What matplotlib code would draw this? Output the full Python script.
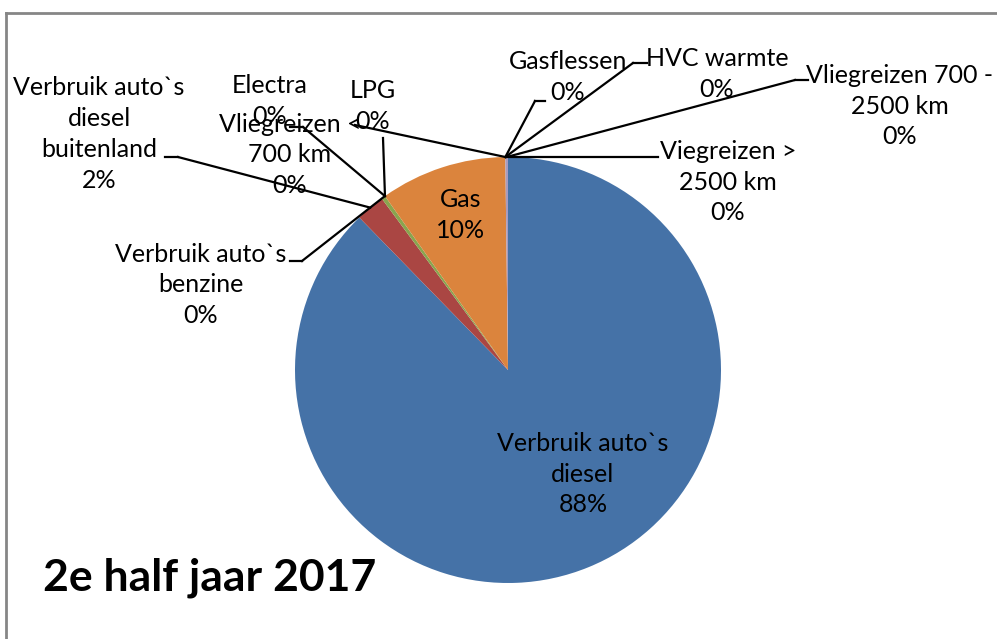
import numpy as np
import matplotlib
matplotlib.use("Agg")
import matplotlib.pyplot as plt

# data, clockwise from 12 o'clock (Excel order)
categories = ["Verbruik auto`s\ndiesel", "Verbruik auto`s\ndiesel\nbuitenland",
              "Verbruik auto`s\nbenzine", "Electra", "LPG", "Gas",
              "Vliegreizen <\n700 km", "Gasflessen", "HVC warmte",
              "Vliegreizen 700 -\n2500 km", "Viegreizen >\n2500 km"]
values = [87.7, 2.2, 0.3, 0.0, 0.0, 9.6, 0.0, 0.0, 0.0, 0.2, 0.0]
colors = ["#4572A7", "#AA4643", "#89A54E", "#71588F", "#4198AF", "#DB843D",
          "#93A9CF", "#D19392", "#B9CD96", "#A99BBD", "#91C3D5"]
title = "2e half jaar 2017"

W, H = 997, 639
CX, CY, R = 508, 370, 213

plt.rcParams['font.family'] = ['Lato', 'DejaVu Sans']

fig = plt.figure(figsize=(W / 100, H / 100), dpi=100)
ax = fig.add_axes([0, 0, 1, 1])

wedges, _ = ax.pie(values, colors=colors, startangle=90, counterclock=False,
                   center=(CX, H - CY), radius=R,
                   wedgeprops=dict(linewidth=0))
ax.set_xlim(0, W)
ax.set_ylim(0, H)
ax.set_aspect('equal')
ax.axis('off')

# label layout in pixels from top-left: text centre, leader start, elbow
layout = [
    ((583, 474), None, None),
    ((99, 134), (178, 157), (165, 157)),
    ((201, 285), (302, 261), (290, 261)),
    ((270, 101), (303, 127), (290, 127)),
    ((373, 106), (383, 138), None),
    ((461, 215), None, None),
    ((290, 155), (355, 125), None),
    ((568, 77), (535, 101), (545, 101)),
    ((717, 74), (633, 63), (647, 63)),
    ((900, 106), (795, 80), (808, 80)),
    ((728, 182), (658, 157), None),
]

tot = sum(values)
for w, name, v, (pos, start, elbow) in zip(wedges, categories, values, layout):
    pct = "%d%%" % round(v / tot * 100)
    ax.text(pos[0], H - pos[1], name + "\n" + pct, ha='center', va='center',
            fontsize=18, linespacing=1.42, color='black')
    if start is None:
        continue
    mid = np.deg2rad((w.theta1 + w.theta2) / 2)
    ex = CX + R * np.cos(mid)
    ey = (H - CY) + R * np.sin(mid)
    ax.plot([start[0], ex], [H - start[1], ey], color='black', lw=1.6)
    if elbow is not None:
        ax.plot([start[0], elbow[0]], [H - start[1], H - elbow[1]],
                color='black', lw=1.6)

ax.text(43, H - 590, title, ha='left', va='baseline', fontsize=32,
        fontweight='bold', color='black')

# chart frame (only top and left edges show)
ax.plot([6, W], [H - 13, H - 13], color='#868686', lw=2, clip_on=False)
ax.plot([6, 6], [H - 13, 0], color='#868686', lw=2, clip_on=False)

fig.savefig("out.png", dpi=100)
